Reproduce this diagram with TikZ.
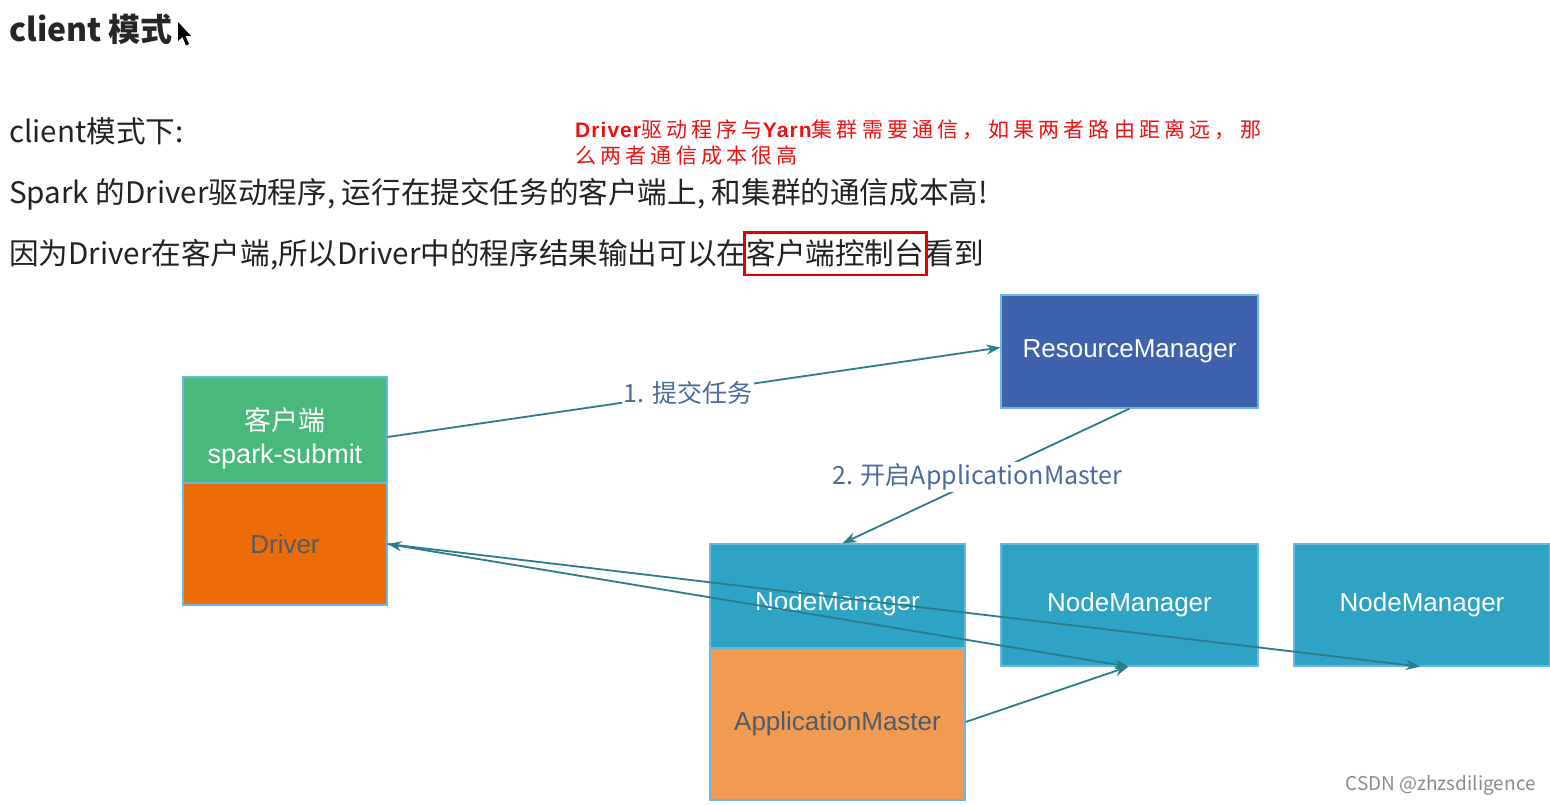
\documentclass[tikz,border=0pt]{standalone}
\usepackage{fontspec}
\setmainfont{Noto Sans CJK SC}
\newfontfamily\cjk{Noto Sans CJK SC}
\newfontfamily\redcjk[LetterSpace=20]{Noto Sans CJK SC}
\newfontfamily\redlat[LetterSpace=5]{Liberation Sans}
\newfontfamily\lab{Liberation Sans}
\usetikzlibrary{arrows.meta}
\definecolor{txt}{HTML}{222222}
\definecolor{redt}{HTML}{EE1111}
\definecolor{greenb}{HTML}{48B97B}
\definecolor{orangeb}{HTML}{EC6C06}
\definecolor{rmb}{HTML}{3E62AD}
\definecolor{nmb}{HTML}{2EA3C3}
\definecolor{amb}{HTML}{F09A52}
\definecolor{edgeb}{HTML}{6AB8E0}
\definecolor{arrc}{HTML}{2A7C8E}
\definecolor{labc}{HTML}{4C6A9C}
\definecolor{dtext}{HTML}{4E5C6C}
\tikzset{
  body/.style={anchor=base west, inner sep=0pt, text=txt, font=\fontsize{29.6}{34}\selectfont},
  boxn/.style={draw=edgeb, line width=1.2pt, inner sep=0pt, text=white,
     font=\lab\fontsize{26}{30}\selectfont},
  arr/.style={draw=arrc, line width=1.8pt, -{Stealth[length=14pt,width=10pt]}},
  arrlab/.style={fill=white, text=labc, inner sep=2pt, font=\fontsize{25}{28}\selectfont},
}
\begin{document}
\begin{tikzpicture}[x=1pt,y=-1pt]
\useasboundingbox (0,0) rectangle (1550,805);
\fill[white] (0,0) rectangle (1550,805);

% title
\node[body, font=\bfseries\fontsize{32}{36}\selectfont, text=black!85] (title) at (9,42) {client 模式};
\fill[black] (178,22) -- (178,41) -- (182.5,37) -- (186,45.5) -- (189,44) -- (185.5,36) -- (191,36) -- cycle;

\node[body] (l1) at (9,143) {client模式下:};
\node[body] (l2) at (9,204) {Spark 的Driver驱动程序, 运行在提交任务的客户端上, 和集群的通信成本高!};
\node[body] (l3a) at (9,265) {因为Driver在客户端,所以Driver中的程序结果输出可以在};
\node[body, anchor=base west] (l3b) at (l3a.base east) {客户端控制台};
\node[body, anchor=base west] (l3c) at (l3b.base east) {看到};
\draw[draw=red!90!black, line width=2.4pt] ([xshift=-2pt,yshift=7pt]l3b.north west) rectangle ([xshift=2pt,yshift=-7pt]l3b.south east);

% red note
\node[anchor=base west, inner sep=0pt, text=redt, font=\fontsize{21}{25}\selectfont] (r1) at (575,138)
  {{\redlat\bfseries Driver}\redcjk 驱动程序与{\redlat\bfseries Yarn}集群需要通信，如果两者路由距离远，那};
\node[anchor=base west, inner sep=0pt, text=redt, font=\redcjk\fontsize{21}{25}\selectfont] (r2) at (575,164)
  {么两者通信成本很高};

% boxes
\node[boxn, fill=greenb, minimum width=204pt, minimum height=106pt, font=\lab\fontsize{27}{31}\selectfont] (cli) at (285,430)
  {\parbox{200pt}{\vspace*{16pt}\centering{\cjk 客户端}\\[2pt]spark-submit}};
\node[boxn, fill=orangeb, minimum width=204pt, minimum height=122pt, text=dtext] (drv) at (285,544) {Driver};
\node[boxn, fill=rmb, minimum width=257pt, minimum height=113pt] (rm) at (1129.5,351.5) {\raisebox{3pt}{ResourceManager}};
\node[boxn, fill=nmb, minimum width=255pt, minimum height=104pt, text depth=0pt] (nm1) at (837.5,596) {\raisebox{-11pt}{NodeManager}};
\node[boxn, fill=amb, minimum width=255pt, minimum height=152pt, text=dtext] (am) at (837.5,724) {\raisebox{3pt}{ApplicationMaster}};
\node[boxn, fill=nmb, minimum width=257pt, minimum height=122pt] (nm2) at (1129.5,605) {NodeManager};
\node[boxn, fill=nmb, minimum width=256pt, minimum height=122pt] (nm3) at (1422,605) {NodeManager};

% connectors
\draw[arr] ([yshift=-7pt]cli.east) -- node[arrlab, pos=0.49] {1. 提交任务} ([yshift=4pt]rm.west);
\draw[arr] (rm.south) -- node[arrlab, pos=0.53, yshift=3pt] {2. 开启ApplicationMaster} ([xshift=5pt]nm1.north);
\draw[arr] ([yshift=2pt]am.east) -- ([xshift=-1pt]nm2.south);
\draw[arr, {Stealth[length=14pt,width=10pt]}-{Stealth[length=14pt,width=10pt]}] (drv.east) -- ([xshift=-1pt]nm2.south);
\draw[arr] (drv.east) -- ([xshift=-2pt]nm3.south);

% watermark
\node[anchor=base east, inner sep=0pt, text=black!45, font=\fontsize{19}{22}\selectfont] (wm) at (1536,790) {CSDN @zhzsdiligence};
\end{tikzpicture}
\end{document}
